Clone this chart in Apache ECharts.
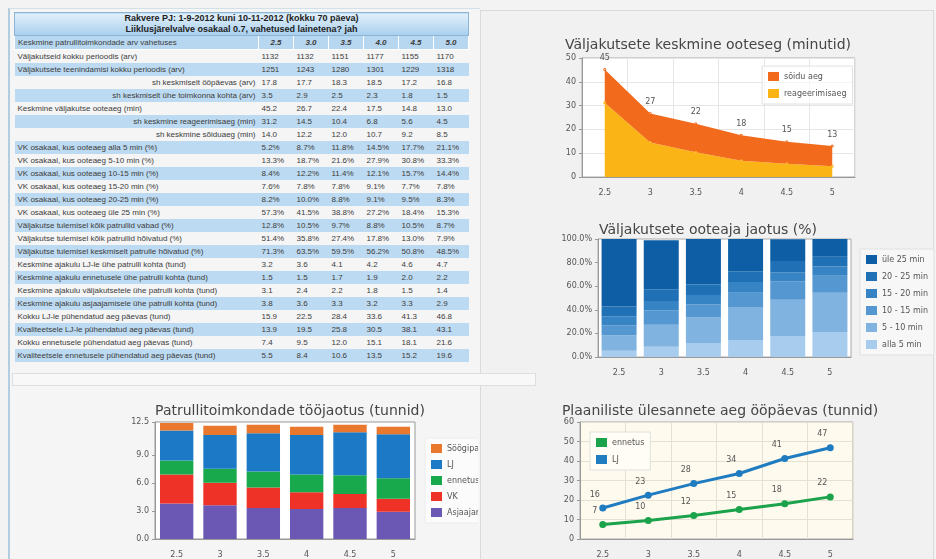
<!DOCTYPE html>
<html>
<head>
<meta charset="utf-8">
<title>Rakvere PJ</title>
<script src="https://cdn.jsdelivr.net/npm/echarts@6/dist/echarts.min.js"></script>
<style>
  body {
    margin: 0;
    width: 936px;
    height: 559px;
    overflow: hidden;
    position: relative;
    background: #f3f3f3;
    font-family: "Liberation Sans", Arial, sans-serif;
  }
  #left {
    position: absolute;
    left: 8px;
    top: 8px;
    width: 470px;
    height: 560px;
    border-left: 2px solid #b3cde0;
    border-top: 1px solid #d3e0e8;
    background: #f5f5f5;
  }
  #right {
    position: absolute;
    left: 480px;
    top: 10px;
    width: 452px;
    height: 560px;
    border: 1px solid #dadada;
    background: #f1f1f1;
  }
  #tbl {
    position: absolute;
    left: 14px;
    top: 12px;
    border-collapse: collapse;
    table-layout: fixed;
    font-size: 8px;
    color: #3c3c3c;
  }
  #tbl td, #tbl th {
    height: 13px;
    line-height: 12px;
    padding: 0 3px;
    white-space: nowrap;
    overflow: hidden;
  }
  #tbl .ttl th {
    height: 22px;
    line-height: 11px;
    font-size: 9px;
    color: #222;
    background: linear-gradient(#e2f0fb, #a8cfee);
    border: 1px solid #8db6d6;
  }
  #tbl .hdr th {
    background: #b7d7f0;
    border: 1px solid #fff;
    font-weight: bold;
    font-style: italic;
    text-align: center;
  }
  #tbl .hdr th.lab {
    font-weight: normal;
    font-style: normal;
    text-align: left;
  }
  #tbl tr.b td { background: #bcdaf1; }
  #tbl td.r { text-align: right; }
  #scroll {
    position: absolute;
    left: 12px;
    top: 373px;
    width: 522px;
    height: 11px;
    background: #f8f8f8;
    border: 1px solid #dedede;
  }
  .chart { position: absolute; }
</style>
</head>
<body>
<div id="left"></div>
<div id="right"></div>
<table id="tbl">
  <colgroup>
    <col style="width:244px"><col style="width:35px"><col style="width:35px"><col style="width:35px">
    <col style="width:35px"><col style="width:35px"><col style="width:35px">
  </colgroup>
  <thead>
    <tr class="ttl"><th colspan="7">Rakvere PJ: 1-9-2012 kuni 10-11-2012 (kokku 70 päeva)<br>Liiklusjärelvalve osakaal 0.7, vahetused lainetena? jah</th></tr>
    <tr class="hdr" id="hdr"><th class="lab">Keskmine patrullitoimkondade arv vahetuses</th></tr>
  </thead>
  <tbody id="tb"></tbody>
</table>
<div id="scroll"></div>
<div id="c1" class="chart" style="left:480px;top:20px;width:456px;height:190px"></div>
<div id="c2" class="chart" style="left:480px;top:205px;width:456px;height:182px"></div>
<div id="c3" class="chart" style="left:10px;top:388px;width:468px;height:171px"></div>
<div id="c4" class="chart" style="left:480px;top:388px;width:456px;height:171px"></div>
<script>
// patrullitoimkondade arv vahetuses
const columns = ['2.5', '3.0', '3.5', '4.0', '4.5', '5.0']
const xCats = ['2.5', '3', '3.5', '4', '4.5', '5']

// väljakutsete ooteaeg (min)
const ooteaeg = [45.2, 26.7, 22.4, 17.5, 14.8, 13.0]
const reageerimisaeg = [31.2, 14.5, 10.4, 6.8, 5.6, 4.5]
const soiduaeg = [14.0, 12.2, 12.0, 10.7, 9.2, 8.5]

// ooteaja jaotus (%)
const alla5 = [5.2, 8.7, 11.8, 14.5, 17.7, 21.1]
const min5_10 = [13.3, 18.7, 21.6, 27.9, 30.8, 33.3]
const min10_15 = [8.4, 12.2, 11.4, 12.1, 15.7, 14.4]
const min15_20 = [7.6, 7.8, 7.8, 9.1, 7.7, 7.8]
const min20_25 = [8.2, 10.0, 8.8, 9.1, 9.5, 8.3]
const yle25 = [57.3, 41.5, 38.8, 27.2, 18.4, 15.3]

// ajakulu ühe patrulli kohta (tund)
const ajakuluLJ = [3.2, 3.6, 4.1, 4.2, 4.6, 4.7]
const ajakuluEnnetus = [1.5, 1.5, 1.7, 1.9, 2.0, 2.2]
const ajakuluVK = [3.1, 2.4, 2.2, 1.8, 1.5, 1.4]
const ajakuluAsjaajamine = [3.8, 3.6, 3.3, 3.2, 3.3, 2.9]
const ajakuluPaus = [0.8, 1.0, 0.9, 0.9, 0.8, 0.8]
const tooTicks = [0, 3, 6, 9, 12, 12.5]

// pühendatud aeg päevas (tund)
const kokkuLJ = [15.9, 22.5, 28.4, 33.6, 41.3, 46.8]
const kvaliteetneLJ = [13.9, 19.5, 25.8, 30.5, 38.1, 43.1]
const kokkuEnnetus = [7.4, 9.5, 12.0, 15.1, 18.1, 21.6]
const kvaliteetneEnnetus = [5.5, 8.4, 10.6, 13.5, 15.2, 19.6]

const pct = (arr) => arr.map((v) => v.toFixed(1) + '%')
const num = (arr) => arr.map((v) => v.toFixed(1))

const tableRows = [
  ['Väljakutseid kokku perioodis (arv)', false, [1132, 1132, 1151, 1177, 1155, 1170]],
  ['Väljakutsete teenindamisi kokku perioodis (arv)', false, [1251, 1243, 1280, 1301, 1229, 1318]],
  ['sh keskmiselt ööpäevas (arv)', true, num([17.8, 17.7, 18.3, 18.5, 17.2, 16.8])],
  ['sh keskmiselt ühe toimkonna kohta (arv)', true, num([3.5, 2.9, 2.5, 2.3, 1.8, 1.5])],
  ['Keskmine väljakutse ooteaeg (min)', false, num(ooteaeg)],
  ['sh keskmine reageerimisaeg (min)', true, num(reageerimisaeg)],
  ['sh keskmine sõiduaeg (min)', true, num(soiduaeg)],
  ['VK osakaal, kus ooteaeg alla 5 min (%)', false, pct(alla5)],
  ['VK osakaal, kus ooteaeg 5-10 min (%)', false, pct(min5_10)],
  ['VK osakaal, kus ooteaeg 10-15 min (%)', false, pct(min10_15)],
  ['VK osakaal, kus ooteaeg 15-20 min (%)', false, pct(min15_20)],
  ['VK osakaal, kus ooteaeg 20-25 min (%)', false, pct(min20_25)],
  ['VK osakaal, kus ooteaeg üle 25 min (%)', false, pct(yle25)],
  ['Väljakutse tulemisel kõik patrullid vabad (%)', false, pct([12.8, 10.5, 9.7, 8.8, 10.5, 8.7])],
  ['Väljakutse tulemisel kõik patrullid hõivatud (%)', false, pct([51.4, 35.8, 27.4, 17.8, 13.0, 7.9])],
  ['Väljakutse tulemisel keskmiselt patrulle hõivatud (%)', false, pct([71.3, 63.5, 59.5, 56.2, 50.8, 48.5])],
  ['Keskmine ajakulu LJ-le ühe patrulli kohta (tund)', false, num(ajakuluLJ)],
  ['Keskmine ajakulu ennetusele ühe patrulli kohta (tund)', false, num(ajakuluEnnetus)],
  ['Keskmine ajakulu väljakutsetele ühe patrulli kohta (tund)', false, num(ajakuluVK)],
  ['Keskmine ajakulu asjaajamisele ühe patrulli kohta (tund)', false, num(ajakuluAsjaajamine)],
  ['Kokku LJ-le pühendatud aeg päevas (tund)', false, num(kokkuLJ)],
  ['Kvaliteetsele LJ-le pühendatud aeg päevas (tund)', false, num(kvaliteetneLJ)],
  ['Kokku ennetusele pühendatud aeg päevas (tund)', false, num(kokkuEnnetus)],
  ['Kvaliteetsele ennetusele pühendatud aeg päevas (tund)', false, num(kvaliteetneEnnetus)],
]

// tabel
const hdr = document.getElementById('hdr')
columns.forEach((c) => {
  const th = document.createElement('th')
  th.textContent = c
  hdr.appendChild(th)
})
const tb = document.getElementById('tb')
tableRows.forEach(([label, right, values], i) => {
  const tr = document.createElement('tr')
  if (i % 2 === 1) tr.className = 'b'
  let html = '<td' + (right ? ' class="r"' : '') + '>' + label + '</td>'
  values.forEach((v) => { html += '<td>' + v + '</td>' })
  tr.innerHTML = html
  tb.appendChild(tr)
})

const font = 'DejaVu Sans'
const titleStyle = { fontFamily: font, fontSize: 14, fontWeight: 'normal', color: '#454545' }
const axisLabel = { fontFamily: font, fontSize: 8, color: '#555', margin: 6 }
const catAxis = {
  type: 'category',
  data: xCats,
  axisLine: { lineStyle: { color: '#999' } },
  axisTick: { show: false },
  axisLabel: { ...axisLabel, margin: 12 },
}
const valAxis = (min, max, interval, fmt) => ({
  type: 'value',
  min, max, interval,
  axisLine: { show: true, lineStyle: { color: '#999' } },
  axisTick: { show: true, length: 3, lineStyle: { color: '#999' } },
  axisLabel: { ...axisLabel, formatter: fmt },
  splitLine: { lineStyle: { color: '#e6e6e6' } },
})
const legendBase = {
  orient: 'vertical',
  icon: 'rect',
  itemWidth: 11,
  itemHeight: 9,
  textStyle: { fontFamily: font, fontSize: 8, color: '#555' },
  backgroundColor: 'rgba(255,255,255,0.6)',
  borderColor: '#e0e0e0',
  borderWidth: 1,
  padding: [6, 6],
}

// Väljakutsete keskmine ooteaeg
const c1 = echarts.init(document.getElementById('c1'))
c1.setOption({
  animation: false,
  title: { text: 'Väljakutsete keskmine ooteseg (minutid)', left: 'center', top: 13, textStyle: titleStyle },
  legend: { ...legendBase, data: ['sõidu aeg', 'reageerimisaeg'], left: 282, top: 46, itemGap: 8 },
  grid: { left: 102, top: 38, width: 273, height: 119, show: true, backgroundColor: '#fff', borderColor: '#aaa' },
  xAxis: { ...catAxis, splitLine: { show: true, lineStyle: { color: '#e6e6e6' } } },
  yAxis: valAxis(0, 50, 10),
  series: [
    {
      name: 'reageerimisaeg', type: 'line', stack: 'ooteaeg', data: reageerimisaeg,
      symbolSize: 1, itemStyle: { color: '#fbb416' }, lineStyle: { width: 0 },
      areaStyle: { color: '#fbb416', opacity: 1 },
    },
    {
      name: 'sõidu aeg', type: 'line', stack: 'ooteaeg', data: soiduaeg,
      symbolSize: 1, itemStyle: { color: '#f26b1d' }, lineStyle: { width: 0 },
      areaStyle: { color: '#f26b1d', opacity: 1 },
      label: {
        show: true, position: 'top', distance: 6, fontFamily: font, fontSize: 8, color: '#555',
        formatter: (p) => Math.round(ooteaeg[p.dataIndex]),
      },
    },
  ],
})

// Väljakutsete ooteaja jaotus
const blues = ['#a8ccee', '#80b3df', '#5597d0', '#3784c4', '#1f70b5', '#0d5ea5']
const jaotus = [
  ['alla 5 min', alla5], ['5 - 10 min', min5_10], ['10 - 15 min', min10_15],
  ['15 - 20 min', min15_20], ['20 - 25 min', min20_25], ['üle 25 min', yle25],
]
const c2 = echarts.init(document.getElementById('c2'))
c2.setOption({
  animation: false,
  title: { text: 'Väljakutsete ooteaja jaotus (%)', left: 'center', top: 13, textStyle: titleStyle },
  legend: {
    ...legendBase, data: jaotus.map((j) => j[0]).reverse(), left: 380, top: 44, itemGap: 8,
    backgroundColor: '#f7f7f7',
  },
  grid: { left: 118, top: 34, width: 253, height: 118, show: true, backgroundColor: '#fff', borderColor: '#aaa' },
  xAxis: catAxis,
  yAxis: { ...valAxis(0, 100, 20, (v) => v.toFixed(1) + '%'), splitLine: { show: false } },
  series: jaotus.map(([name, data], i) => ({
    name, type: 'bar', stack: 'jaotus', data, barWidth: '83%',
    itemStyle: { color: blues[i] },
  })),
})

// Patrullitoimkondade tööjaotus
const too = [
  ['Asjaajamine', ajakuluAsjaajamine, '#6a58b4'],
  ['VK', ajakuluVK, '#ef3227'],
  ['ennetus', ajakuluEnnetus, '#17a94b'],
  ['LJ', ajakuluLJ, '#1b79c6'],
  ['Söögipaus', ajakuluPaus, '#e9772d'],
]
const tooAxis = valAxis(0, 12.5, 3, (v) => v.toFixed(1))
tooAxis.axisLabel.customValues = tooTicks
tooAxis.axisLabel.showMaxLabel = true
tooAxis.axisLabel.hideOverlap = false
tooAxis.axisTick.customValues = tooTicks
tooAxis.splitLine = { show: false }
const c3 = echarts.init(document.getElementById('c3'))
c3.setOption({
  animation: false,
  title: { text: 'Patrullitoimkondade tööjaotus (tunnid)', left: 275, textAlign: 'center', top: 11, textStyle: titleStyle },
  legend: { ...legendBase, data: too.map((t) => t[0]).reverse(), left: 415, top: 50, itemGap: 7, borderColor: '#ececec' },
  grid: { left: 145, top: 34, width: 260, height: 118, show: true, backgroundColor: '#fff', borderColor: '#999' },
  xAxis: catAxis,
  yAxis: tooAxis,
  series: too.map(([name, data, color]) => ({
    name, type: 'bar', stack: 'too', data, barWidth: '77%',
    itemStyle: { color },
  })),
})

// Plaaniliste ülesannete aeg ööpäevas
const lineLabel = { show: true, position: 'top', offset: [-8, -1], fontFamily: font, fontSize: 8, color: '#555', formatter: (p) => Math.round(p.value) }
const c4 = echarts.init(document.getElementById('c4'))
c4.setOption({
  animation: false,
  title: { text: 'Plaaniliste ülesannete aeg ööpäevas (tunnid)', left: 235, textAlign: 'center', top: 11, textStyle: titleStyle },
  legend: { ...legendBase, data: ['ennetus', 'LJ'], left: 110, top: 44, itemGap: 8, backgroundColor: '#fffdf5' },
  grid: { left: 100, top: 34, width: 273, height: 118, show: true, backgroundColor: '#fffaee', borderColor: '#aaa' },
  xAxis: { ...catAxis, splitLine: { show: true, lineStyle: { color: '#e4e0d4' } } },
  yAxis: { ...valAxis(0, 60, 10), splitLine: { lineStyle: { color: '#e4e0d4' } } },
  series: [
    {
      name: 'ennetus', type: 'line', data: kokkuEnnetus, symbol: 'circle', symbolSize: 7,
      itemStyle: { color: '#1aa34a' }, lineStyle: { width: 3, color: '#1aa34a' }, label: lineLabel,
    },
    {
      name: 'LJ', type: 'line', data: kokkuLJ, symbol: 'circle', symbolSize: 7,
      itemStyle: { color: '#1f7cc0' }, lineStyle: { width: 3, color: '#1f7cc0' }, label: lineLabel,
    },
  ],
})
</script>
</body>
</html>
